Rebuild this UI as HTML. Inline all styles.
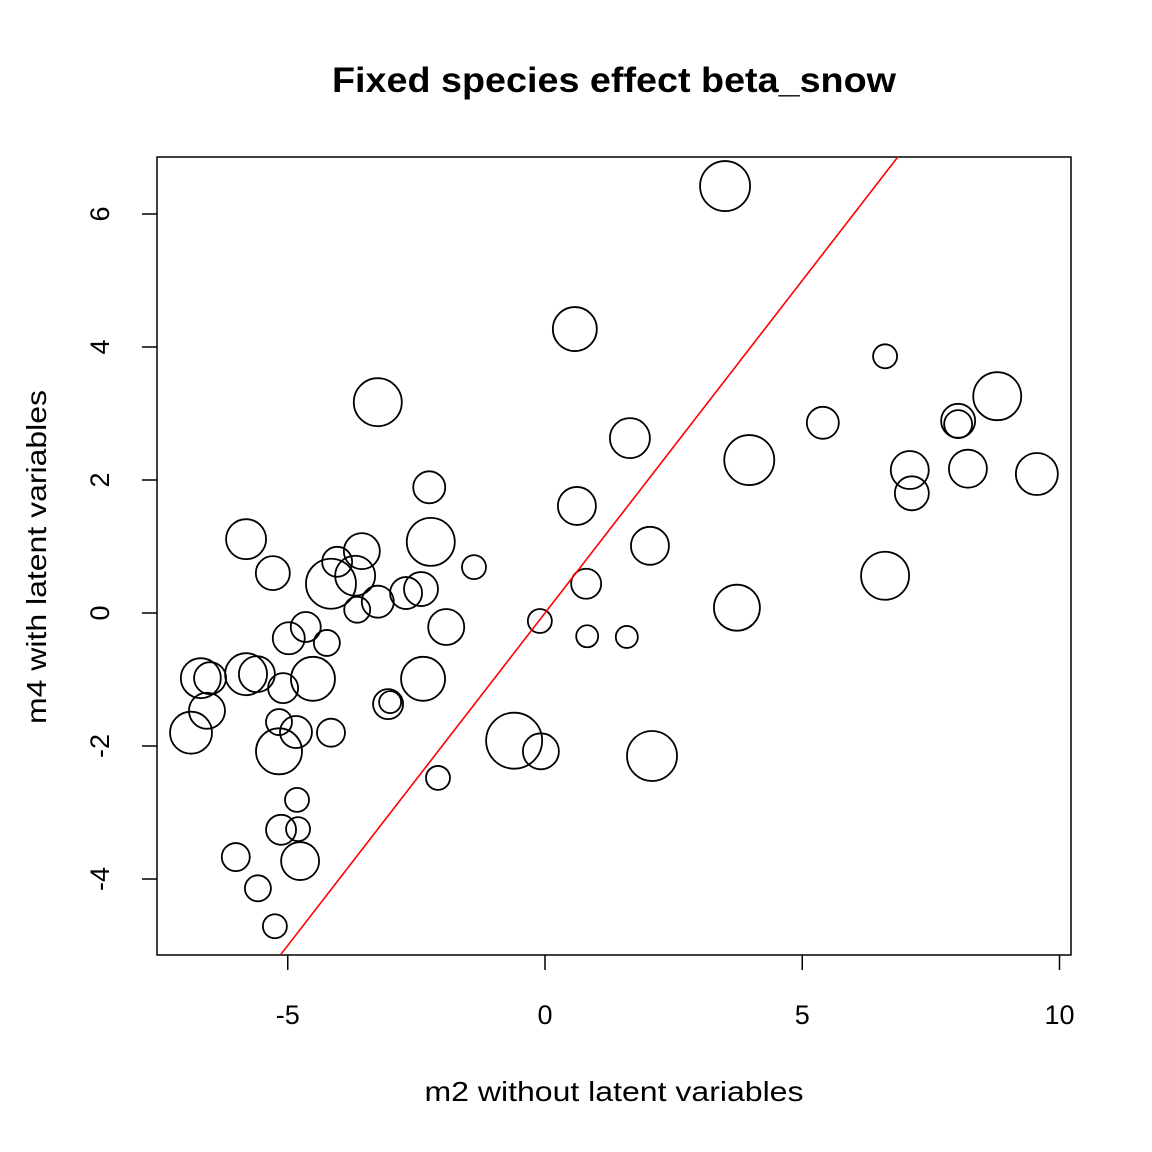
<!DOCTYPE html>
<html><head><meta charset="utf-8"><style>html,body{margin:0;padding:0;background:#fff}svg{display:block}text{font-family:"Liberation Sans",Arial,sans-serif}</style></head>
<body>
<svg id="chart" width="1152" height="1152" xmlns="http://www.w3.org/2000/svg">
<text x="614" y="92" text-anchor="middle" font-size="35" font-weight="bold" textLength="564" lengthAdjust="spacingAndGlyphs">Fixed species effect beta_snow</text>
<text x="614" y="1101" text-anchor="middle" font-size="28" textLength="379" lengthAdjust="spacingAndGlyphs">m2 without latent variables</text>
<text transform="translate(46,557) rotate(-90)" text-anchor="middle" font-size="28" textLength="334" lengthAdjust="spacingAndGlyphs">m4 with latent variables</text>
<rect x="157" y="157" width="914" height="798" fill="none" stroke="#000" stroke-width="1.5"/>
<g id="marks"></g>
</svg>
<script>
const xTicks = [-5, 0, 5, 10];
const yTicks = [-4, -2, 0, 2, 4, 6];
const xVals = [3.50,0.58,6.61,-3.25,8.79,5.40,8.03,8.03,1.65,3.97,7.09,8.22,9.56,7.13,-2.25,0.62,2.04,-5.81,-2.22,-5.29,-4.04,-3.56,-1.38,-4.16,-3.69,0.80,-2.70,-2.41,-3.25,-3.65,6.61,3.73,-0.10,-4.65,-1.92,0.82,1.59,-4.98,-4.24,-6.69,-6.51,-5.81,-5.60,-4.51,-2.37,-5.09,-6.57,-3.05,-3.01,-5.17,-4.84,-4.16,-6.88,-5.17,-0.60,-0.08,2.08,-2.08,-4.82,-5.13,-4.80,-4.76,-6.01,-5.58,-5.25];
const yVals = [6.42,4.27,3.86,3.17,3.26,2.86,2.89,2.84,2.63,2.30,2.15,2.17,2.09,1.80,1.89,1.61,1.01,1.11,1.07,0.60,0.77,0.93,0.69,0.44,0.56,0.44,0.30,0.36,0.17,0.05,0.56,0.08,-0.12,-0.21,-0.21,-0.35,-0.36,-0.38,-0.45,-0.98,-0.98,-0.92,-0.92,-0.99,-0.99,-1.13,-1.47,-1.37,-1.34,-1.64,-1.79,-1.80,-1.80,-2.08,-1.92,-2.08,-2.15,-2.48,-2.81,-3.26,-3.25,-3.73,-3.67,-4.14,-4.71];
const sizes = [25,22,12,24,24,16,17,14,20,25,19,19,21,17,16,19,19,20,24,17,15,18,12,25,20,15,16,17,16,13,24,23,12,15,18,11,11,16,13,20,16,21,18,22,22,15,18,15,11,13,16,14,21,23,28,18,25,12,12,15,12,19,14,13,12];
const X = v => 545 + v * 51.45;
const Y = v => 613 - v * 66.5;
const NS = "http://www.w3.org/2000/svg";
const svg = document.getElementById('chart');
const g = document.getElementById('marks');
function mk(tag, attrs, parent) { const e = document.createElementNS(NS, tag); for (const k in attrs) e.setAttribute(k, attrs[k]); (parent||svg).appendChild(e); return e; }
xTicks.forEach(t => {
  const l = mk('line', {x1:X(t), x2:X(t), y1:955, y2:970, stroke:'#000', 'stroke-width':1.5});
  
  
  const tx = mk('text', {x:X(t), y:1024, 'text-anchor':'middle', 'font-size':27});
  tx.textContent = t;
  
  
});
yTicks.forEach(t => {
  const l = mk('line', {x1:142, x2:157, y1:Y(t), y2:Y(t), stroke:'#000', 'stroke-width':1.5});
  
  
  const tx = mk('text', {transform:`translate(109,${Y(t)}) rotate(-90)`, 'text-anchor':'middle', 'font-size':27});
  tx.textContent = t;
  
  
});
xVals.forEach((v, i) => {
  const c = mk('circle', {cx:X(v), cy:Y(yVals[i]), r:sizes[i], fill:'none', stroke:'#000', 'stroke-width':1.8}, g);
  
  
});
const lo = -5.14, hi = 6.86;
const ln = mk('line', {x1:X(lo), y1:Y(lo), x2:X(hi), y2:Y(hi), stroke:'#f00', 'stroke-width':1.6});


</script>
</body></html>
